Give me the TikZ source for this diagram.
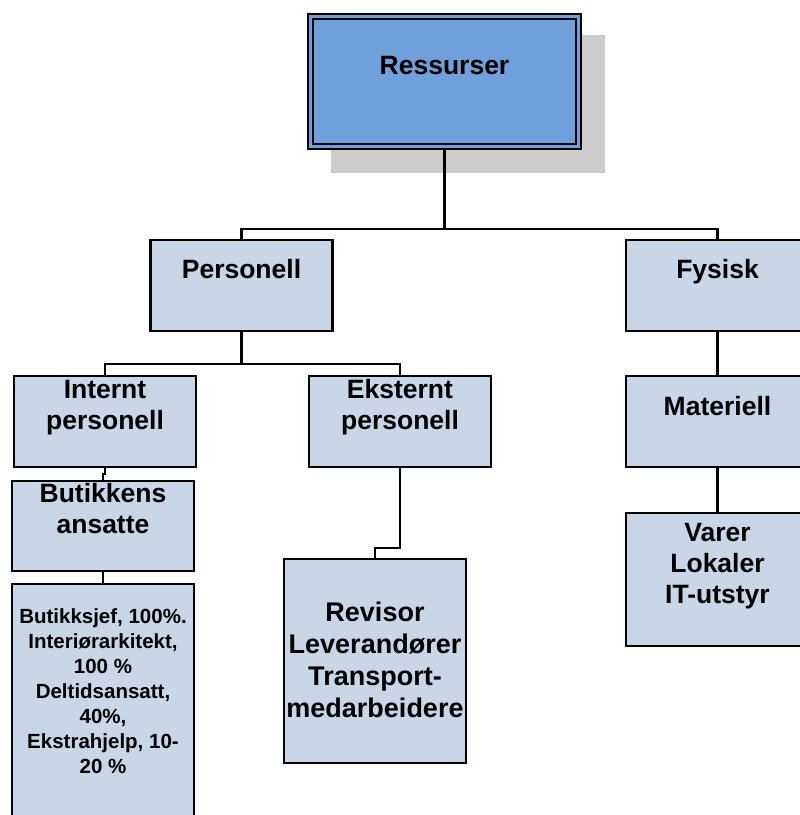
\documentclass[tikz,border=0pt]{standalone}
\usepackage{fontspec}
\setmainfont{Liberation Sans}
\definecolor{boxfill}{RGB}{200,214,230}
\definecolor{topfill}{RGB}{112,160,220}
\definecolor{shadowgray}{RGB}{204,204,204}
\pgfdeclarelayer{bg}
\pgfsetlayers{bg,main}
\begin{document}
\begin{tikzpicture}[x=1pt,y=-1pt,
  box/.style={draw=black, line width=2.2pt, fill=boxfill, inner sep=0pt, outer sep=0pt,
              minimum width=182pt},
  topbox/.style={draw=black, line width=1.8pt, double=topfill, double distance=3.3pt,
                 fill=topfill, inner sep=0pt, outer sep=0pt,
                 minimum width=268.4pt, minimum height=130.4pt},
  link/.style={draw=black, line width=2.2pt},
  lbl/.style={anchor=north, align=center, inner sep=0pt,
              font=\bfseries\fontsize{26.5}{31}\selectfont},
  lblrev/.style={lbl, font=\bfseries\fontsize{27}{32}\selectfont},
  lblsmall/.style={lbl, font=\bfseries\fontsize{20.5}{25}\selectfont}
]
\clip (0,0) rectangle (800,815);

% boxes
\node[topbox] (top) at (444.5,81.5) {};
\node[box, minimum height=91pt] (pers) at (241.5,285.5) {};
\node[box, minimum height=91pt, minimum width=183pt] (fys) at (717.5,285.5) {};
\node[box, minimum height=91pt] (intern) at (105,421.5) {};
\node[box, minimum height=91pt] (ekstern) at (400,421.5) {};
\node[box, minimum height=91pt, minimum width=183pt] (mat) at (717.5,421.5) {};
\node[box, minimum height=90pt] (butikk) at (103,526) {};
\node[box, minimum height=250pt] (staff) at (103,709) {};
\node[box, minimum height=204pt] (rev) at (375,661) {};
\node[box, minimum height=133pt, minimum width=183pt] (varer) at (717.5,579.5) {};

% shadow and connectors behind the boxes
\coordinate (bus1) at (444.5,229);
\coordinate (bus2) at (241.5,364);
\begin{pgfonlayer}{bg}
  \fill[shadowgray] (331,35) rectangle (605,173);
  \draw[link] (top.south) -- (bus1) -| (pers.north);
  \draw[link] (bus1) -| (fys.north);
  \draw[link] (pers.south) -- (bus2) -| (intern.north);
  \draw[link] (bus2) -| (ekstern.north);
  \draw[link] (intern.south) -- ++(0,7) -| (butikk.north);
  \draw[link] (butikk.south) -- (staff.north);
  \draw[link] (ekstern.south) -- ++(0,81) -| (rev.north);
  \draw[link] (fys.south) -- (mat.north);
  \draw[link] (mat.south) -- (varer.north);
\end{pgfonlayer}

% labels
\node[lbl] (t-top) at (444.5,52.3) {\strut Ressurser};
\node[lbl] (t-pers) at (241.5,257) {\strut Personell};
\node[lbl] (t-fys) at (717.5,257) {\strut Fysisk};
\node[lbl] (t-intern) at (105,376.8) {\strut Internt\\personell};
\node[lbl] (t-ekstern) at (400,376.8) {\strut Eksternt\\personell};
\node[lbl] (t-mat) at (717.5,393.5) {\strut Materiell};
\node[lbl] (t-butikk) at (103,480.3) {\strut Butikkens\\ansatte};
\node[lbl] (t-varer) at (717.5,519.8) {\strut Varer\\Lokaler\\IT-utstyr};
\node[lblrev] (t-rev) at (375,599.3) {\strut Revisor\\Leverandører\\Transport-\\medarbeidere};
\node[lblsmall] (t-staff) at (103,605.5) {\strut Butikksjef, 100\%.\\Interiørarkitekt,\\100 \%\\Deltidsansatt,\\40\%,\\Ekstrahjelp, 10-\\20 \%};
\end{tikzpicture}
\end{document}
